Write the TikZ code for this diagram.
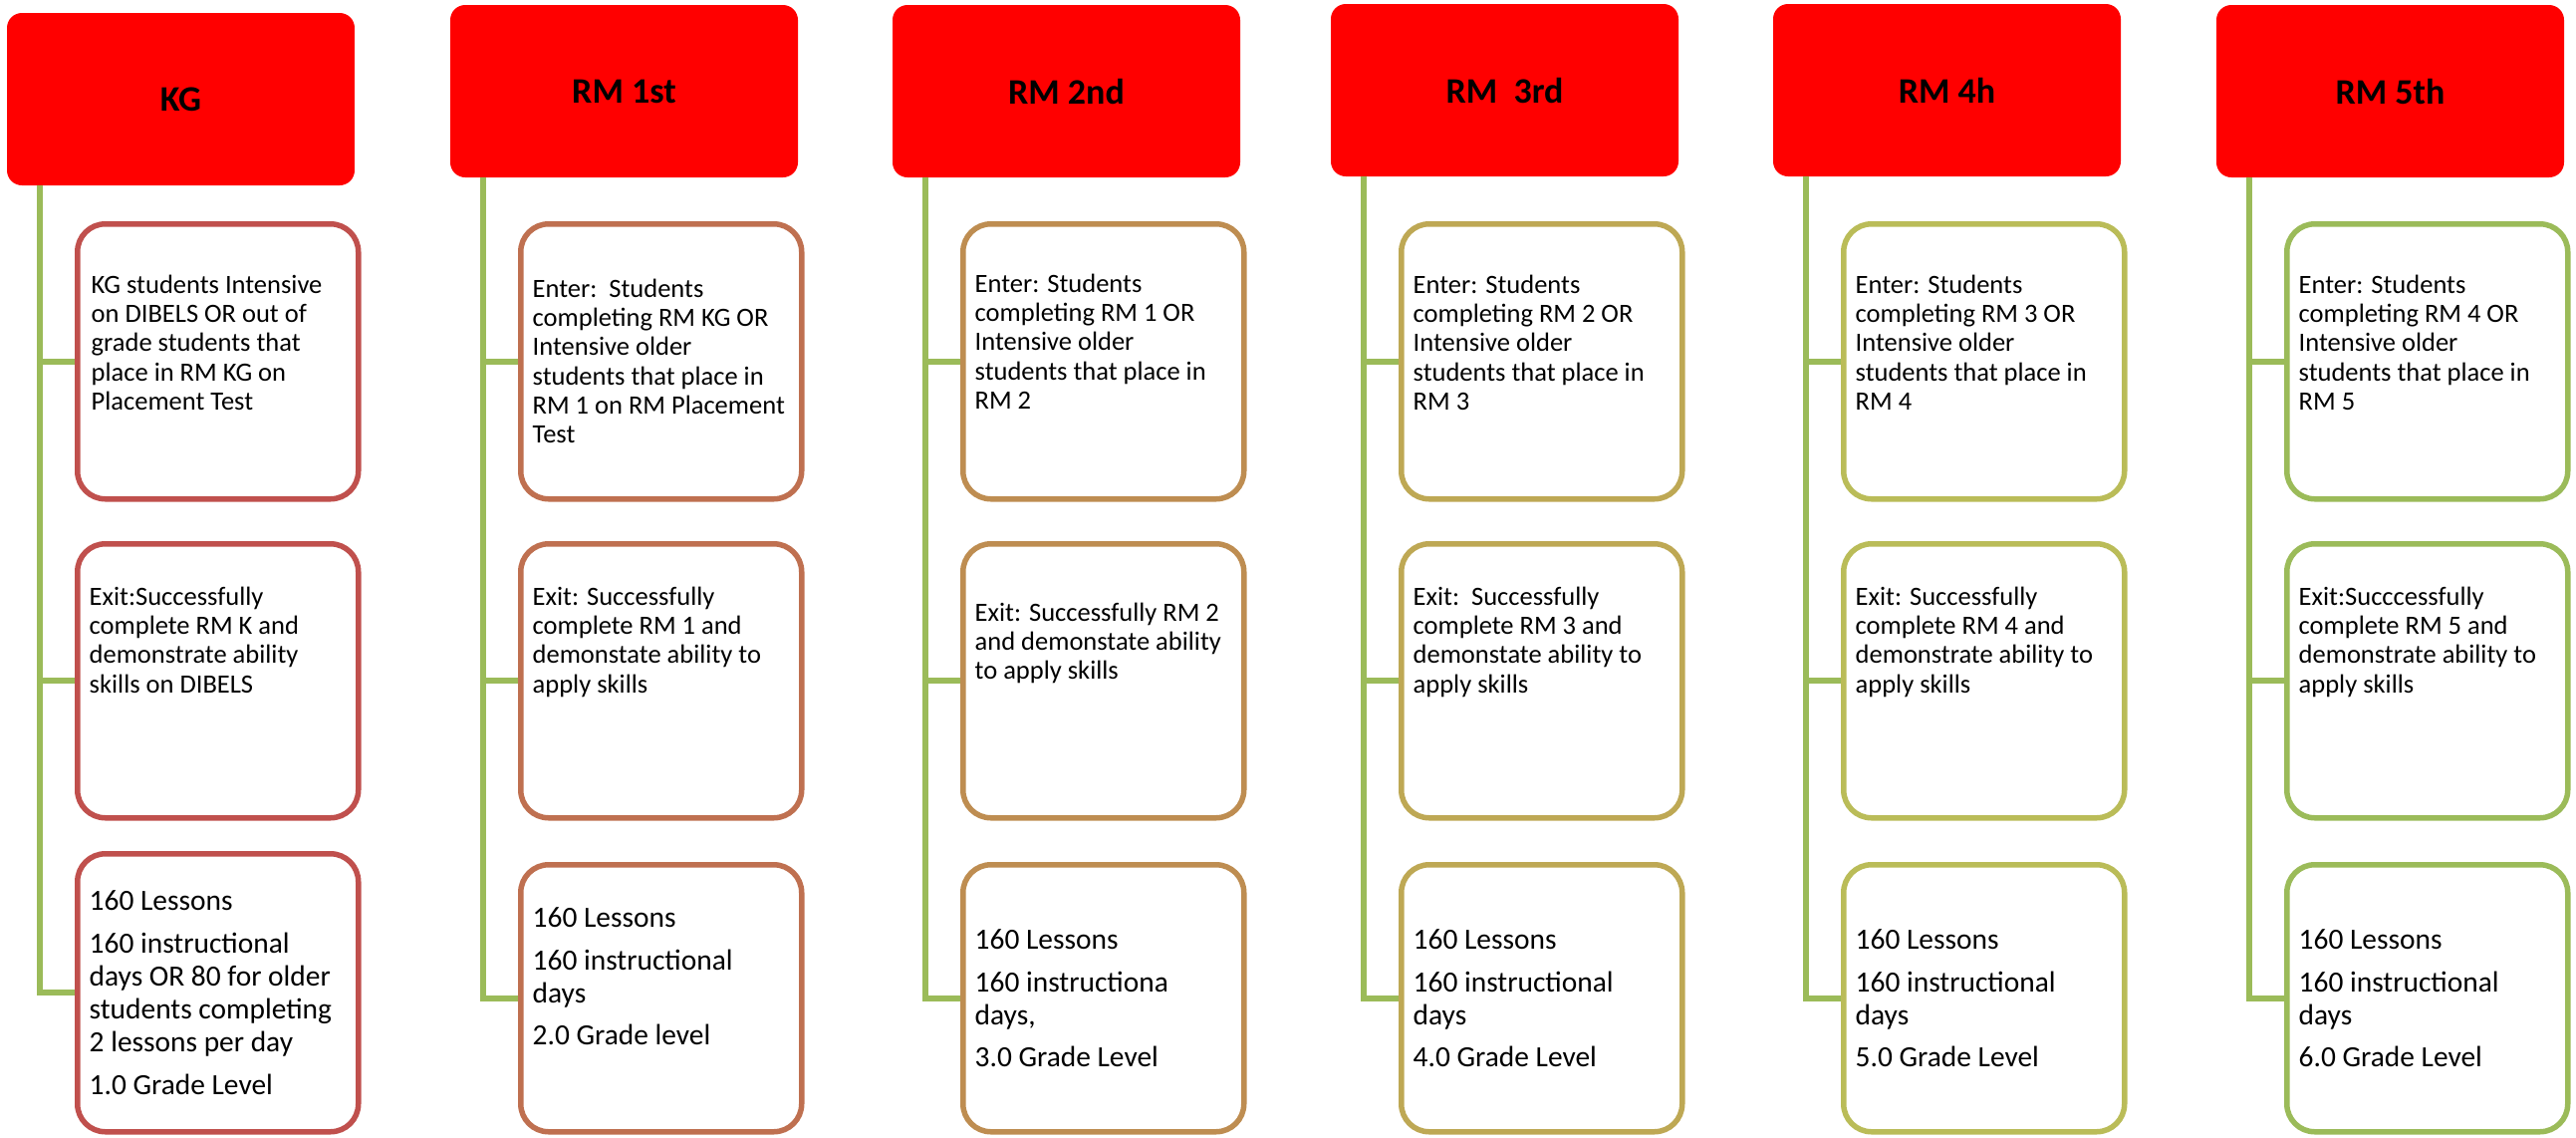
\documentclass[tikz,border=0pt]{standalone}
\usepackage{fontspec}
\setmainfont{Carlito}
\usetikzlibrary{positioning}

\definecolor{hdrred}{RGB}{255,0,0}
\definecolor{trunkgreen}{RGB}{155,187,89}
\definecolor{c0}{RGB}{192,80,77}
\definecolor{c1}{RGB}{191,112,80}
\definecolor{c2}{RGB}{190,141,81}
\definecolor{c3}{RGB}{190,168,84}
\definecolor{c4}{RGB}{186,188,88}
\definecolor{c5}{RGB}{155,187,89}

\tikzset{
  hdr/.style={fill=hdrred, rounded corners=1.5mm, minimum width=34.9mm,
    minimum height=17.3mm, inner sep=0, outer sep=0,
    font=\fontsize{10.24pt}{12pt}\selectfont\bfseries},
  stage/.style={draw, fill=white, line width=0.55mm, rounded corners=2.8mm,
    minimum width=28.2mm, inner sep=0, anchor=north west},
  trunk/.style={draw=trunkgreen, line width=0.6mm},
  entry/.style={align=left, inner sep=0, anchor=north west,
    font=\fontsize{7.54pt}{8.34pt}\selectfont},
  lesson/.style={align=left, inner sep=0, anchor=west,
    font=\fontsize{8.37pt}{9.39pt}\selectfont},
}

\begin{document}
\begin{tikzpicture}[x=0.1mm, y=-0.1mm]
   \useasboundingbox (0,0) rectangle (2586,1141);

   % headers, boxes and the green trunk of each column
   \foreach \i/\hx/\hy/\lt/\lh/\name in {0/7/13/857/27.9mm/KG, 1/452/5/868/26.8mm/RM 1st,
       2/896/5/868/26.8mm/RM 2nd, 3/1336/4/868/26.8mm/RM~~3rd,
       4/1780/4/868/26.8mm/RM 4h, 5/2225/5/868/26.8mm/RM 5th}{
     \node[hdr, anchor=north west] (h\i) at (\hx,\hy) {\name};
     \node[stage, draw=c\i, minimum height=27.6mm] (in\i) at (\hx+68,222) {};
     \node[stage, draw=c\i, minimum height=27.5mm] (out\i) at (\hx+68,543) {};
     \node[stage, draw=c\i, minimum height=\lh] (les\i) at (\hx+68,\lt-3) {};
     \coordinate (top\i) at (\hx+33,\hy+173);
     \draw[trunk] (top\i) |- (les\i.west);
     \draw[trunk] (top\i |- in\i.west) -- (in\i.west);
     \draw[trunk] (top\i |- out\i.west) -- (out\i.west);
   }

   % entry texts
   \node[entry] (in0t) at ([shift={(16,53)}]in0.north west) {KG students Intensive\\on DIBELS OR out of\\grade students that\\place in RM KG on\\Placement Test};
   \node[entry] (in1t) at ([shift={(14,57)}]in1.north west) {Enter:\ \ Students\\completing RM KG OR\\Intensive older\\students that place in\\RM 1 on RM Placement\\Test};
   \node[entry] (in2t) at ([shift={(14,52)}]in2.north west) {Enter: Students\\completing RM 1 OR\\Intensive older\\students that place in\\RM 2};
   \node[entry] (in3t) at ([shift={(14,53)}]in3.north west) {Enter: Students\\completing RM 2 OR\\Intensive older\\students that place in\\RM 3};
   \node[entry] (in4t) at ([shift={(14,53)}]in4.north west) {Enter: Students\\completing RM 3 OR\\Intensive older\\students that place in\\RM 4};
   \node[entry] (in5t) at ([shift={(14,53)}]in5.north west) {Enter: Students\\completing RM 4 OR\\Intensive older\\students that place in\\RM 5};

   % exit texts
   \node[entry] (out0t) at ([shift={(14,45)}]out0.north west) {Exit:Successfully\\complete RM K and\\demonstrate ability\\skills on DIBELS};
   \node[entry] (out1t) at ([shift={(14,45)}]out1.north west) {Exit: Successfully\\complete RM 1 and\\demonstate ability to\\apply skills};
   \node[entry] (out2t) at ([shift={(14,61)}]out2.north west) {Exit: Successfully RM 2\\and demonstate ability\\to apply skills};
   \node[entry] (out3t) at ([shift={(14,45)}]out3.north west) {Exit:\ \ Successfully\\complete RM 3 and\\demonstate ability to\\apply skills};
   \node[entry] (out4t) at ([shift={(14,45)}]out4.north west) {Exit: Successfully\\complete RM 4 and\\demonstrate ability to\\apply skills};
   \node[entry] (out5t) at ([shift={(14,45)}]out5.north west) {Exit:Succcessfully\\complete RM 5 and\\demonstrate ability to\\apply skills};

   % lesson texts
   \node[lesson] (les0t) at ([shift={(14,0)}]les0.west) {160 Lessons\\[2.8pt]160 instructional\\days OR 80 for older\\students completing\\2 lessons per day\\[2.8pt]1.0 Grade Level};
   \node[lesson] (les1t) at ([shift={(14,-22)}]les1.west) {160 Lessons\\[2.8pt]160 instructional\\days\\[2.8pt]2.0 Grade level};
   \node[lesson] (les2t) at ([shift={(14,0)}]les2.west) {160 Lessons\\[2.8pt]160 instructiona\\days,\\[2.8pt]3.0 Grade Level};
   \node[lesson] (les3t) at ([shift={(14,0)}]les3.west) {160 Lessons\\[2.8pt]160 instructional\\days\\[2.8pt]4.0 Grade Level};
   \node[lesson] (les4t) at ([shift={(14,0)}]les4.west) {160 Lessons\\[2.8pt]160 instructional\\days\\[2.8pt]5.0 Grade Level};
   \node[lesson] (les5t) at ([shift={(14,0)}]les5.west) {160 Lessons\\[2.8pt]160 instructional\\days\\[2.8pt]6.0 Grade Level};
\end{tikzpicture}
\end{document}
